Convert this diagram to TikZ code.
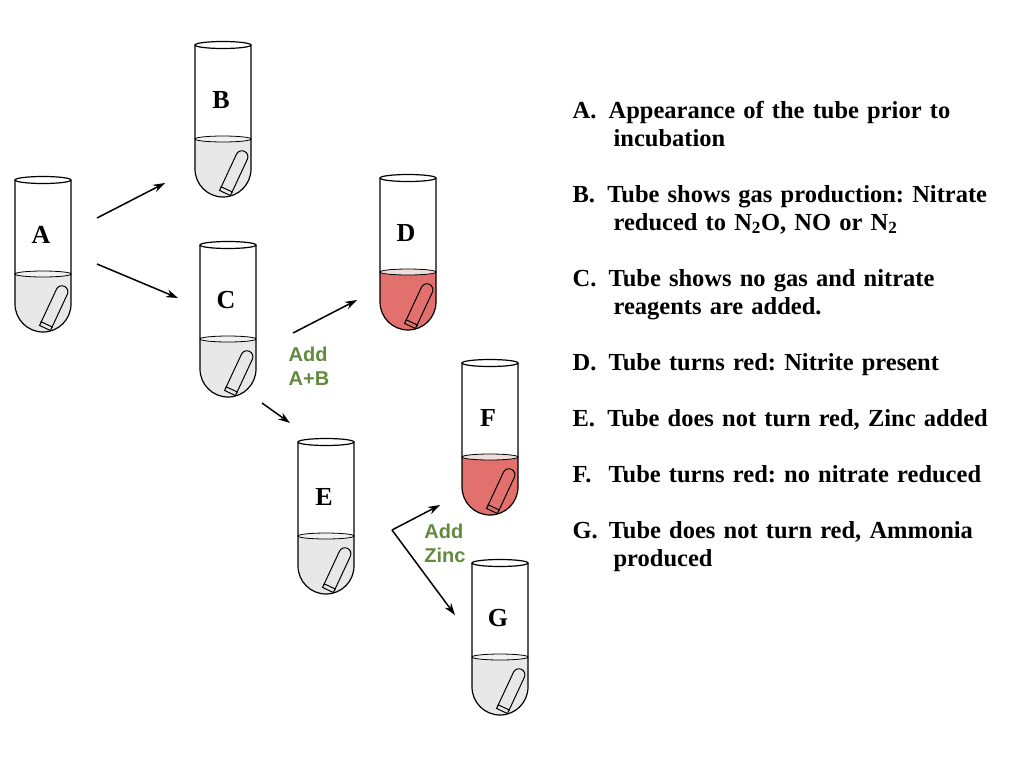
\documentclass[tikz,border=0pt]{standalone}
\usetikzlibrary{arrows.meta}
\usepackage{fontspec}
\setmainfont{Liberation Serif}
\setsansfont{Liberation Sans}
\frenchspacing
\begin{document}
\begin{tikzpicture}[x=1pt,y=-1pt,line width=1.2pt,
  arr/.style={-{Stealth[length=12pt,width=8pt]},line width=1.5pt},
  lbl/.style={font=\bfseries\fontsize{26}{26}\selectfont},
  grn/.style={font=\sffamily\bfseries\fontsize{20}{24}\selectfont,align=left},
  itm/.style={anchor=base west,inner sep=0pt,font=\bfseries\fontsize{24.5}{28}\selectfont,align=left,text width=440pt}]
\definecolor{liq}{RGB}{232,232,232}
\definecolor{redliq}{RGB}{226,112,108}
\definecolor{grn}{RGB}{98,138,62}
\useasboundingbox (0,0) rectangle (1016,766);
% tube macro: #1 left x, #2 top y, #3 fill colour, #4 label, #5 name
\newcommand\tube[5]{%
 \begin{scope}[shift={(#1,#2)}]
  \fill[#3] (0,94) -- (0,124) arc[start angle=180,end angle=0,x radius=28,y radius=28] -- (56,94) -- cycle;
  \draw[line width=0.8pt,fill=#3!80!black!20!white] (28,94) ellipse[x radius=28,y radius=3];
  \draw (0,0) -- (0,124) arc[start angle=180,end angle=0,x radius=28,y radius=28] -- (56,0);
  \draw (28,0) ellipse[x radius=28,y radius=3.5];
  \begin{scope}[shift={(30,148)},rotate=-25]
   \draw[line width=1pt,fill=#3] (-6,0) rectangle (6,-4);
   \draw[line width=1pt] (-6,-2) -- (-6,-40) arc[start angle=180,end angle=360,radius=6] -- (6,-2);
  \end{scope}
  \node[lbl] (#5) at (26,55) {#4};
 \end{scope}}
\tube{15}{180}{liq}{A}{A}
\tube{195}{45}{liq}{B}{B}
\tube{200}{245}{liq}{C}{C}
\tube{380}{178}{redliq}{D}{D}
\tube{298}{442}{liq}{E}{E}
\tube{462}{363}{redliq}{F}{F}
\tube{472}{563}{liq}{G}{G}
\coordinate (a1) at (97,218); \coordinate (b1) at (165,183);
\coordinate (a2) at (97,264); \coordinate (c1) at (178,298);
\coordinate (c2) at (293,333); \coordinate (d1) at (357,300);
\coordinate (c3) at (262,403); \coordinate (e1) at (290,423);
\coordinate (j) at (392,530); \coordinate (f1) at (440,505); \coordinate (g1) at (455,615);
\draw[arr] (a1) -- (b1);
\draw[arr] (a2) -- (c1);
\draw[arr] (c2) -- (d1);
\draw[arr] (c3) -- (e1);
\draw[arr] (j) -- (f1);
\draw[arr] (j) -- (g1);
\node[grn,text=grn] (t1) at (309,366) {Add\\A+B};
\node[grn,text=grn] (t2) at (445,543) {Add\\Zinc};
\node[itm] (iA) at (572,118) {A.\hspace{0.5em}Appearance of the tube prior to\\\hspace*{41pt}incubation};
\node[itm] (iB) at (572,202) {B.\hspace{0.5em}Tube shows gas production: Nitrate\\\hspace*{41pt}reduced to N\textsubscript{2}O, NO or N\textsubscript{2}};
\node[itm] (iC) at (572,286) {C.\hspace{0.5em}Tube shows no gas and nitrate\\\hspace*{41pt}reagents are added.};
\node[itm] (iD) at (572,370) {D.\hspace{0.5em}Tube turns red: Nitrite present};
\node[itm] (iE) at (572,426) {E.\hspace{0.5em}Tube does not turn red, Zinc added};
\node[itm] (iF) at (572,482) {F.\hspace{0.7em}Tube turns red: no nitrate reduced};
\node[itm] (iG) at (572,538) {G.\hspace{0.45em}Tube does not turn red, Ammonia\\\hspace*{41pt}produced};
\end{tikzpicture}
\end{document}
